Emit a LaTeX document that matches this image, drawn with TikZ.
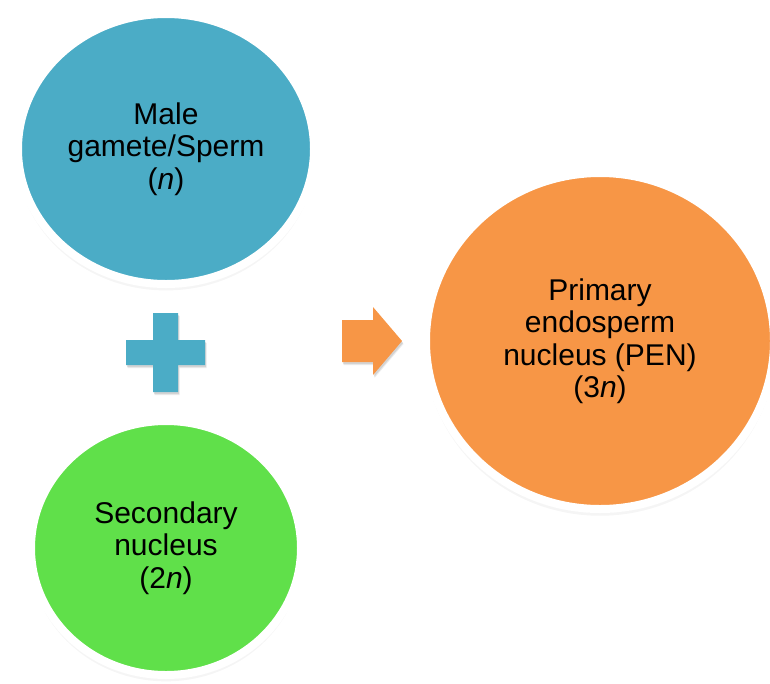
\documentclass[tikz,border=0pt]{standalone}
\usepackage{fontspec}
\setmainfont{Liberation Sans}
\usetikzlibrary{shapes.geometric,shadows}
\definecolor{cblue}{HTML}{4BACC6}
\definecolor{cgreen}{HTML}{60E04A}
\definecolor{corange}{HTML}{F79646}
\tikzset{
  softshadow/.style={
    general shadow={shadow scale=1.02, fill=black, opacity=.03},
    general shadow={shadow scale=1.01, fill=black, opacity=.04},
    general shadow={shadow yshift=-5pt, shadow scale=1.01, fill=black, opacity=.04},
    general shadow={shadow yshift=-3.5pt, fill=black, opacity=.06},
    general shadow={shadow yshift=-2pt, fill=black, opacity=.08}},
  smallshadow/.style={
    general shadow={shadow xshift=1.5pt, shadow yshift=-3pt, fill=black, opacity=.08},
    general shadow={shadow xshift=1pt, shadow yshift=-2pt, fill=black, opacity=.10}},
  bubble/.style={ellipse, draw=white, line width=8pt, inner sep=0pt, outer sep=0pt,
    align=center, text=black, softshadow,
    font=\fontsize{30}{32.5}\selectfont},
}
\begin{document}
\begin{tikzpicture}[x=1pt,y=-1pt]
\useasboundingbox (0,0) rectangle (770,683);
\node[bubble, fill=cblue, minimum width=296pt, minimum height=270pt] (male) at (166,149)
  {Male\\gamete/Sperm\\(\textit{n})};
\node[bubble, fill=cgreen, minimum width=270pt, minimum height=254pt] (sec) at (166,548)
  {Secondary\\nucleus\\(2\textit{n})};
\node[bubble, fill=corange, minimum width=348pt, minimum height=336pt] (pen) at (600,341)
  {Primary\\endosperm\\nucleus (PEN)\\(3\textit{n})};
\fill[cblue, smallshadow] (153,313) -- (178,313) -- (178,340) -- (205,340) -- (205,365)
  -- (178,365) -- (178,392) -- (153,392) -- (153,365) -- (126,365) -- (126,340)
  -- (153,340) -- cycle;
\fill[corange, smallshadow] (342,320) -- (373,320) -- (373,307) -- (402,341) -- (373,375)
  -- (373,362) -- (342,362) -- cycle;
\end{tikzpicture}
\end{document}
